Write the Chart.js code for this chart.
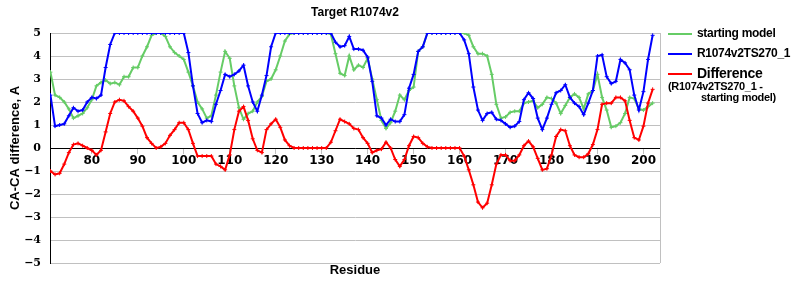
<!DOCTYPE html>
<html>
<head>
<meta charset="utf-8">
<script src="https://cdn.jsdelivr.net/npm/chart.js@4/dist/chart.umd.min.js"></script>
<style>
body { margin: 0; background: #fff; }
#wrap { position: relative; width: 800px; height: 300px; }
#chart { position: absolute; left: 0; top: 0; }
.leg { position: absolute; font-family: "Liberation Sans", Arial, sans-serif; font-weight: bold; white-space: nowrap; letter-spacing: -0.3px; }
.legline { position: absolute; height: 2px; width: 24px; }
</style>
</head>
<body>
<div id="wrap">
  <canvas id="chart" width="710" height="300"></canvas>
</div>
<script>
// residues 71..202
var firstResidue = 71;
var xTickValues = [80, 90, 100, 110, 120, 130, 140, 150, 160, 170, 180, 190, 200];

var startingModel = [
    3.3, 2.3, 2.2, 2.0, 1.7, 1.3, 1.4, 1.5, 1.75, 2.1,
    2.7, 2.85, 2.95, 2.8, 2.85, 2.75, 3.1, 3.1, 3.5, 3.5,
    4.0, 4.4, 4.9, 5, 5, 4.85, 4.4, 4.15, 4.0, 3.85,
    3.3, 2.7, 2.0, 1.7, 1.3, 1.4, 2.3, 3.3, 4.2, 3.9,
    2.7, 1.75, 1.25, 1.5, 1.6, 2.0, 2.25, 2.9, 3.0, 3.4,
    4.0, 4.65, 4.95, 5, 5, 5, 5, 5, 5, 5,
    5, 4.95, 4.1, 3.25, 3.15, 4.0, 3.4, 3.6, 3.5, 3.9,
    3.0, 2.1, 1.2, 0.85, 1.1, 1.6, 2.3, 2.1, 2.5, 2.65,
    4.2, 4.4, 5, 5, 5, 5, 5, 5, 5, 5,
    5, 4.9, 4.4, 4.1, 4.1, 4.0, 3.2, 1.9, 1.3, 1.35,
    1.55, 1.6, 1.6, 1.95, 2.0, 2.05, 1.75, 1.9, 2.2, 2.15,
    1.95, 1.5, 1.85, 2.2, 2.35, 2.2, 1.7, 2.35, 2.5, 3.2,
    2.2, 1.65, 0.9, 0.95, 1.1, 1.5, 2.2, 2.15, 1.7, 1.65,
    1.8, 1.95
];

var modelTS270 = [
    2.3, 0.95, 1.0, 1.05, 1.4, 1.75, 1.6, 1.65, 2.0, 2.2,
    2.15, 2.3, 3.5, 4.5, 5, 5, 5, 5, 5, 5,
    5, 5, 5, 5, 5, 5, 5, 5, 5, 5,
    4.15, 2.7, 1.5, 1.1, 1.2, 1.15, 1.9, 2.5, 3.2, 3.1,
    3.2, 3.35, 3.6, 2.7, 2.0, 1.6, 2.3, 3.15, 4.4, 5,
    5, 5, 5, 5, 5, 5, 5, 5, 5, 5,
    5, 5, 4.6, 4.4, 4.45, 4.85, 4.3, 4.3, 4.25, 3.95,
    2.9, 1.4, 1.3, 1.0, 1.25, 1.15, 1.15, 1.45, 2.6, 3.2,
    4.2, 4.4, 5, 5, 5, 5, 5, 5, 5, 5,
    4.7, 4.1, 2.65, 1.65, 1.2, 1.5, 1.55, 1.25, 1.2, 1.05,
    0.9, 0.95, 1.15, 2.1, 2.4, 2.15, 1.3, 0.8, 1.3, 1.9,
    2.4, 2.5, 2.75, 2.2, 1.95, 1.8, 1.45, 1.95, 2.5, 4.0,
    4.05, 3.1, 2.8, 2.9, 3.85, 3.7, 3.4, 2.3, 1.65, 2.45,
    3.85, 4.9
];

var difference = [
    -1.0, -1.15, -1.1, -0.7, -0.2, 0.15, 0.2, 0.1, 0.0, -0.1,
    -0.3, -0.1, 0.7, 1.5, 2.0, 2.1, 2.05, 1.8, 1.6, 1.3,
    0.95, 0.45, 0.2, 0.0, 0.05, 0.2, 0.55, 0.8, 1.1, 1.1,
    0.8, 0.2, -0.35, -0.35, -0.35, -0.35, -0.7, -0.8, -0.95, -0.3,
    0.8, 1.6, 1.8, 1.2, 0.4, -0.1, -0.2, 0.8, 1.05, 1.25,
    0.9, 0.35, 0.1, 0, 0, 0, 0, 0, 0, 0,
    0, 0.25, 0.75, 1.25, 1.15, 1.05, 0.85, 0.8, 0.45, 0.2,
    -0.2, -0.1, -0.05, 0.25, 0.0, -0.5, -0.8, -0.5, 0.1, 0.5,
    0.45, 0.2, 0.05, 0, 0, 0, 0, 0, 0, 0,
    -0.35, -0.95, -1.6, -2.35, -2.6, -2.4, -1.6, -0.7, -0.3, -0.3,
    -0.55, -0.55, -0.3, 0.1, 0.3, 0.05, -0.45, -0.95, -0.9, -0.3,
    0.5, 0.8, 0.75, 0.1, -0.3, -0.4, -0.4, -0.25, 0.15, 0.8,
    1.9, 1.95, 1.95, 2.2, 2.2, 2.05, 1.2, 0.45, 0.35, 0.95,
    1.95, 2.55
];

var seriesNames = ["starting model", "R1074v2TS270_1", "Difference"];
var seriesColors = ["#66cc66", "#0000ff", "#ff0000"];
var seriesData = [startingModel, modelTS270, difference];
var diffNote = ["(R1074v2TS270_1 -", "starting model)"];

function toPoints(values) {
    return values.map((v, i) => ({ x: firstResidue + i, y: v }));
}

var datasets = seriesData.map((values, i) => ({
    label: seriesNames[i],
    data: toPoints(values),
    borderColor: seriesColors[i],
    backgroundColor: seriesColors[i],
    borderWidth: 2,
    pointStyle: "cross",
    pointRadius: 2,
    pointBorderWidth: 1,
    tension: 0,
    order: 2 - i
}));

var textPlugin = {
    id: "texts",
    afterDraw(chart) {
        var ctx = chart.ctx;
        var area = chart.chartArea;
        var cx = (area.left + area.right) / 2;
        ctx.save();
        // right border
        ctx.strokeStyle = "#c0c0c0";
        ctx.lineWidth = 1;
        ctx.beginPath();
        ctx.moveTo(area.right + 0.5, area.top);
        ctx.lineTo(area.right + 0.5, area.bottom);
        ctx.stroke();

        ctx.fillStyle = "#000";
        ctx.textAlign = "center";
        ctx.textBaseline = "middle";
        ctx.font = "bold 12px 'Liberation Sans', Arial, sans-serif";
        ctx.fillText("Target R1074v2", cx, 13);
        ctx.font = "bold 13px 'Liberation Sans', Arial, sans-serif";
        ctx.fillText("Residue", cx, 270);
        ctx.translate(15, (area.top + area.bottom) / 2);
        ctx.rotate(-Math.PI / 2);
        ctx.fillText("CA-CA difference, A", 0, 0);
        ctx.restore();
    }
};

new Chart(document.getElementById("chart").getContext("2d"), {
    type: "line",
    data: { datasets: datasets },
    plugins: [textPlugin],
    options: {
        responsive: false,
        animation: false,
        layout: { padding: { top: 33, right: 50, bottom: 37, left: 0 } },
        plugins: {
            legend: { display: false },
            title: { display: false },
            tooltip: { enabled: false }
        },
        scales: {
            x: {
                type: "linear",
                min: 70.9,
                max: 203.6,
                position: { y: 0 },
                afterFit: (s) => { s.height = 0; },
                afterBuildTicks: (s) => {
                    s.ticks = xTickValues.map(v => ({ value: v }));
                },
                grid: { drawOnChartArea: false, drawTicks: true, tickLength: 5, color: "#c0c0c0" },
                border: { color: "#000", width: 1 },
                ticks: {
                    padding: 1,
                    color: "#000",
                    font: { family: "DejaVu Sans", weight: "bold", size: 12 }
                }
            },
            y: {
                min: -5,
                max: 5,
                afterFit: (s) => { s.width = 50; },
                grid: { color: "#c0c0c0", drawTicks: false },
                border: { color: "#000", width: 1 },
                ticks: {
                    stepSize: 1,
                    padding: 9,
                    color: "#000",
                    font: { family: "'DejaVu Serif', serif", weight: "bold", size: 11 },
                    callback: (v) => v < 0 ? "\u2212" + Math.abs(v) : String(v)
                }
            }
        }
    }
});

// legend
var wrap = document.getElementById("wrap");
var rowY = [34, 54, 74];
seriesNames.forEach((name, i) => {
    var line = document.createElement("div");
    line.className = "legline";
    line.style.left = "668px";
    line.style.top = (rowY[i] - 1) + "px";
    line.style.background = seriesColors[i];
    wrap.appendChild(line);

    var txt = document.createElement("div");
    txt.className = "leg";
    txt.textContent = name;
    txt.style.left = "697px";
    txt.style.fontSize = i == 2 ? "14px" : "12px";
    txt.style.top = (rowY[i] - (i == 2 ? 9 : 8)) + "px";
    wrap.appendChild(txt);
});
diffNote.forEach((note, i) => {
    var txt = document.createElement("div");
    txt.className = "leg";
    txt.textContent = note;
    txt.style.fontSize = "11px";
    txt.style.left = (i == 0 ? 668 : 701) + "px";
    txt.style.top = (i == 0 ? 80 : 91) + "px";
    wrap.appendChild(txt);
});
</script>
</body>
</html>
